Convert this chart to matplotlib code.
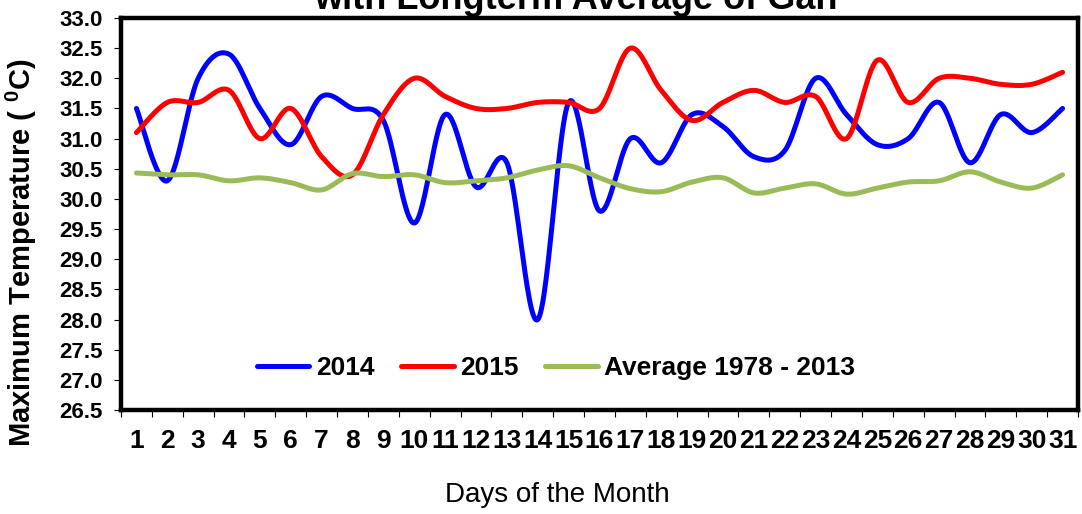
import numpy as np
import matplotlib
matplotlib.use('Agg')
import matplotlib.pyplot as plt

plt.rcParams['font.family'] = ['Liberation Sans', 'DejaVu Sans']
plt.rcParams['mathtext.fontset'] = 'custom'
plt.rcParams['mathtext.bf'] = 'Liberation Sans:bold'
plt.rcParams['mathtext.rm'] = 'Liberation Sans'

days = list(range(1, 32))
t2014 = [31.5, 30.3, 32.0, 32.4, 31.5, 30.9, 31.7, 31.5, 31.3, 29.6,
         31.4, 30.2, 30.6, 28.0, 31.6, 29.8, 31.0, 30.6, 31.4, 31.2,
         30.7, 30.8, 32.0, 31.4, 30.9, 31.0, 31.6, 30.6, 31.4, 31.1, 31.5]
t2015 = [31.1, 31.6, 31.6, 31.8, 31.0, 31.5, 30.7, 30.4, 31.4, 32.0,
         31.7, 31.5, 31.5, 31.6, 31.6, 31.5, 32.5, 31.8, 31.3, 31.6,
         31.8, 31.6, 31.7, 31.0, 32.3, 31.6, 32.0, 32.0, 31.9, 31.9, 32.1]
t_avg = [30.43, 30.40, 30.40, 30.30, 30.35, 30.27, 30.15, 30.42, 30.37, 30.40,
         30.27, 30.30, 30.35, 30.48, 30.55, 30.35, 30.17, 30.12, 30.28, 30.35,
         30.10, 30.18, 30.25, 30.08, 30.18, 30.28, 30.30, 30.45, 30.28, 30.18, 30.40]
labels = ['2014', '2015', 'Average 1978 - 2013']
colors = ['#0000FF', '#FF0000', '#9BBB59']


def smooth(x, y, n=30):
    # Excel-style smoothed line: cubic bezier segments through the points
    x = np.asarray(x, float)
    y = np.asarray(y, float)
    px = np.concatenate([[x[0]], x, [x[-1]]])
    py = np.concatenate([[y[0]], y, [y[-1]]])
    xs, ys = [], []
    t = np.linspace(0, 1, n)
    for i in range(len(x) - 1):
        p0 = np.array([px[i + 1], py[i + 1]])
        p3 = np.array([px[i + 2], py[i + 2]])
        c1 = p0 + (p3 - np.array([px[i], py[i]])) / 6
        c2 = p3 - (np.array([px[i + 3], py[i + 3]]) - p0) / 6
        b = ((1 - t) ** 3)[:, None] * p0 + (3 * (1 - t) ** 2 * t)[:, None] * c1 \
            + (3 * (1 - t) * t ** 2)[:, None] * c2 + (t ** 3)[:, None] * p3
        xs.extend(b[:, 0])
        ys.extend(b[:, 1])
    return xs, ys


fig = plt.figure(figsize=(10.82, 5.14), dpi=100)
ax = fig.add_axes([121 / 1082, 1 - 410 / 514, 957 / 1082, 392 / 514])

for series, lab, c in zip([t2014, t2015, t_avg], labels, colors):
    sx, sy = smooth(days, series)
    ax.plot(sx, sy, color=c, lw=3.6, label=lab, solid_capstyle='round')

ax.set_xlim(0.5, 31.5)
ax.set_ylim(26.5, 33.0)
ax.set_yticks(np.arange(26.5, 33.01, 0.5))
ax.set_yticklabels([f'{v:.1f}' for v in np.arange(26.5, 33.01, 0.5)],
                   fontsize=16, fontweight='bold')
ax.set_xticks(days)
ax.set_xticklabels([str(d) for d in days], fontsize=19, fontweight='bold')
ax.set_xticks(np.arange(0.5, 31.6, 1), minor=True)
ax.tick_params(axis='x', which='major', length=0, pad=14)
ax.tick_params(axis='x', which='minor', length=5, width=0.8, direction='out')
ax.tick_params(axis='y', length=5, width=0.8, pad=8)

for s in ax.spines.values():
    s.set_linewidth(3.2)

ax.set_ylabel('Maximum Temperature ( $\\mathbf{^{0}}$C)', fontsize=21,
              fontweight='bold')
ax.yaxis.set_label_coords(-0.086, 0.40)

fig.text(557 / 1082, 1 - 495 / 514, 'Days of the Month', fontsize=20,
         ha='center', va='center')
fig.text(576 / 1082, 1 - 9 / 514, 'with Longterm Average of Gan', fontsize=26,
         fontweight='bold', ha='center', va='baseline')

ax.legend(loc='center', bbox_to_anchor=(0.4545, 0.107), ncol=3, frameon=False,
          prop={'size': 19, 'weight': 'bold'}, handlelength=2.0,
          handletextpad=0.25, columnspacing=1.0)

fig.savefig('out.png', dpi=100)
